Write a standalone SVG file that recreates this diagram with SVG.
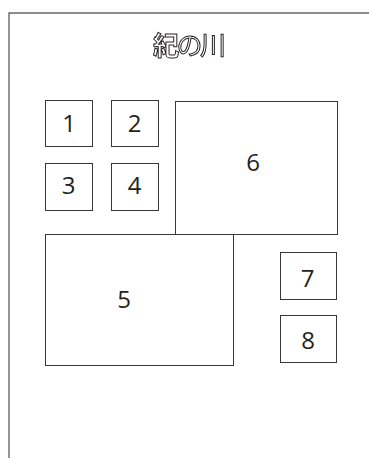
<svg xmlns="http://www.w3.org/2000/svg" width="369" height="458" viewBox="0 0 369 458">
<defs><filter id="gray" x="0" y="0" width="1" height="1"><feOffset dx="0" dy="0"/></filter></defs>
<style>
.frame{fill:none;stroke:#6b6767;stroke-width:1.4}
.box{fill:#fff;stroke:#3a3737;stroke-width:1}
.lbl{font-family:"Open Sans","Noto Sans",sans-serif;font-size:24px;fill:#231f20;text-anchor:middle}
.title{font-family:"Noto Sans CJK JP",sans-serif;font-size:26px;fill:#fff;stroke:#231f20;stroke-width:1;letter-spacing:-2.5px}
</style>
<rect width="369" height="458" fill="#fff"/>
<g id="frame"><path class="frame" d="M9,458 V13 H369"/></g>
<g id="title" filter="url(#gray)"><text class="title" x="153" y="55"><tspan font-weight="bold">紀</tspan>の川</text></g>
<g id="connectors"></g>
<g id="n6"><rect class="box" x="175.5" y="101.5" width="162" height="133"/><text class="lbl" x="253" y="171">6</text></g>
<g id="n5"><rect class="box" x="45.5" y="234.5" width="188" height="131"/><text class="lbl" x="124" y="308">5</text></g>
<g id="n1"><rect class="box" x="45.5" y="100.5" width="47" height="46"/><text class="lbl" x="69" y="132">1</text></g>
<g id="n2"><rect class="box" x="111.5" y="100.5" width="47" height="46"/><text class="lbl" x="134.5" y="132">2</text></g>
<g id="n3"><rect class="box" x="45.5" y="163.5" width="47" height="47"/><text class="lbl" x="68.5" y="194">3</text></g>
<g id="n4"><rect class="box" x="111.5" y="163.5" width="47" height="47"/><text class="lbl" x="134.5" y="194">4</text></g>
<g id="n7"><rect class="box" x="280.5" y="252.5" width="56" height="47"/><text class="lbl" x="307.5" y="287">7</text></g>
<g id="n8"><rect class="box" x="280.5" y="315.5" width="56" height="47"/><text class="lbl" x="308" y="349">8</text></g>
</svg>
